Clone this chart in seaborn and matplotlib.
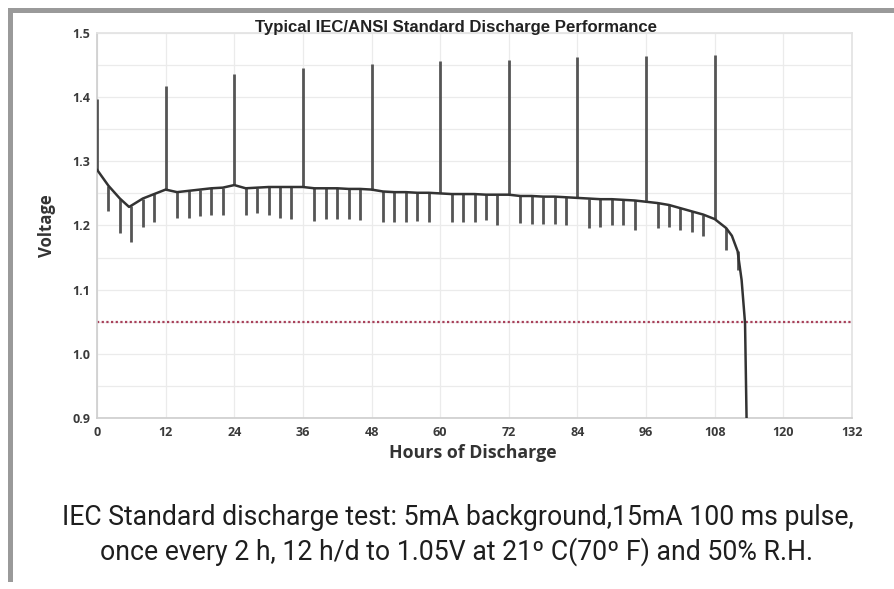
import numpy as np
import pandas as pd
import matplotlib
matplotlib.use("Agg")
import matplotlib.pyplot as plt
from matplotlib.patches import Rectangle
import seaborn as sns

# background (5 mA) voltage, read every 2 h of discharge
hours = [0, 2, 4, 6, 8, 10, 12, 14, 16, 18, 20, 22, 24, 26, 28, 30, 32, 34, 36,
         38, 40, 42, 44, 46, 48, 50, 52, 54, 56, 58, 60, 62, 64, 66, 68, 70, 72,
         74, 76, 78, 80, 82, 84, 86, 88, 90, 92, 94, 96, 98, 100, 102, 104, 106,
         108, 110, 112]
background_v = [1.287, 1.262, 1.242, 1.231, 1.242, 1.249, 1.256, 1.252, 1.254,
                1.256, 1.258, 1.259, 1.263, 1.258, 1.259, 1.260, 1.260, 1.260,
                1.260, 1.258, 1.258, 1.258, 1.257, 1.257, 1.256, 1.253, 1.252,
                1.252, 1.251, 1.251, 1.250, 1.249, 1.249, 1.249, 1.248, 1.248,
                1.248, 1.246, 1.246, 1.245, 1.245, 1.244, 1.243, 1.242, 1.241,
                1.241, 1.240, 1.239, 1.237, 1.235, 1.232, 1.227, 1.222, 1.217,
                1.210, 1.196, 1.160]
# voltage reached at each pulse (recovery peak at the start of each day)
pulse_v = [1.397, 1.222, 1.189, 1.175, 1.197, 1.205, 1.417, 1.211, 1.211, 1.215,
           1.217, 1.217, 1.436, 1.217, 1.220, 1.217, 1.212, 1.210, 1.445, 1.207,
           1.210, 1.210, 1.210, 1.208, 1.451, 1.205, 1.205, 1.205, 1.207, 1.205,
           1.456, 1.206, 1.206, 1.206, 1.208, 1.201, 1.458, 1.204, 1.203, 1.203,
           1.202, 1.201, 1.462, 1.196, 1.198, 1.201, 1.201, 1.193, 1.464, 1.196,
           1.198, 1.193, 1.190, 1.183, 1.466, 1.162, 1.131]
# extra points (minimum, knee and final drop)
extra_hours = [5.6, 111.0, 112.7, 113.3, 113.6]
extra_v = [1.229, 1.184, 1.115, 1.048, 0.880]

cutoff_v = 1.05
x_ticks = [0, 12, 24, 36, 48, 60, 72, 84, 96, 108, 120, 132]
y_ticks = [0.9, 1.0, 1.1, 1.2, 1.3, 1.4, 1.5]

title = "Typical IEC/ANSI Standard Discharge Performance"
caption = ["IEC Standard discharge test: 5mA background,15mA 100 ms pulse,",
           "once every 2 h, 12 h/d to 1.05V at 21º C(70º F) and 50% R.H."]

df = pd.DataFrame({"hours": hours, "background": background_v, "pulse": pulse_v})
curve = pd.DataFrame({"hours": hours + extra_hours, "voltage": background_v + extra_v})
curve = curve.sort_values("hours")

sns.set_theme(style="white")
plt.rcParams["font.family"] = ["Open Sans", "DejaVu Sans"]

W, H = 894, 589
fig = plt.figure(figsize=(W / 100, H / 100), dpi=100)
ax = fig.add_axes([97 / W, 1 - 418 / H, 755 / W, 385 / H])

ax.set_xticks(x_ticks)
ax.set_yticks(y_ticks)
ax.set_yticks(np.arange(0.95, 1.5, 0.1), minor=True)
ax.grid(True, which="both", color="#ebebeb", lw=0.9)
ax.set_axisbelow(True)

ax.axhline(cutoff_v, color="#a8405a", lw=1.6, ls=(0, (1, 1.1)), zorder=2)
ax.vlines(df["hours"], df["background"], df["pulse"], color="#555555", lw=2.0, zorder=3)
sns.lineplot(data=curve, x="hours", y="voltage", sort=False, estimator=None,
             color="#333333", lw=1.8, ax=ax, zorder=4)

ax.set_xlim(0, 132)
ax.set_ylim(0.9, 1.5)
ax.set_yticklabels([f"{v:.1f}" for v in y_ticks])

for side in ["left", "bottom"]:
    ax.spines[side].set_color("#cfcfcf")
for side in ["top", "right"]:
    ax.spines[side].set_color("#e3e3e3")
ax.tick_params(axis="both", which="both", length=0, labelsize=9, labelcolor="#3a3a3a")
ax.tick_params(axis="x", pad=5.5)
ax.tick_params(axis="y", pad=5)
for lab in ax.get_xticklabels() + ax.get_yticklabels():
    lab.set_fontweight("bold")

xl = ax.set_xlabel("Hours of Discharge", fontsize=11, fontweight="bold", color="#333333", va="center")
ax.xaxis.set_label_coords(0.498, -0.09)
yl = ax.set_ylabel("Voltage", fontsize=10.5, fontweight="bold", color="#333333", va="center")
ax.yaxis.set_label_coords(-0.066, 0.5)

t = fig.text(455.5 / W, 1 - 27.5 / H, title, ha="center", va="center", fontsize=11,
             fontweight="bold", family="Liberation Sans", color="#222222")
c1 = fig.text(458 / W, 1 - 525 / H, caption[0], ha="center", va="baseline",
              fontsize=18, family="Roboto", color="#1e1e1e")
c2 = fig.text(457 / W, 1 - 560 / H, caption[1], ha="center", va="baseline",
              fontsize=18, family="Roboto", color="#1e1e1e")

# scale the text sizes to the widths measured on the reference
renderer = fig.canvas.get_renderer()


def fit(txt, target, use_height=False):
    ext = txt.get_window_extent(renderer)
    size = ext.height if use_height else ext.width
    txt.set_fontsize(txt.get_fontsize() * target / size)
    return txt.get_fontsize()


fit(t, 403)
fs = fit(c1, 790)
c2.set_fontsize(fs)
fit(xl, 167)
fit(yl, 63, use_height=True)

# screenshot frame edges
fig.add_artist(Rectangle((8 / W, 1 - 13 / H), 1, 5 / H, transform=fig.transFigure,
                         color="#9a9a9a", lw=0))
fig.add_artist(Rectangle((8 / W, 1 - 582 / H), 5 / W, 574 / H, transform=fig.transFigure,
                         color="#9a9a9a", lw=0))

fig.savefig("out.png", dpi=100)
